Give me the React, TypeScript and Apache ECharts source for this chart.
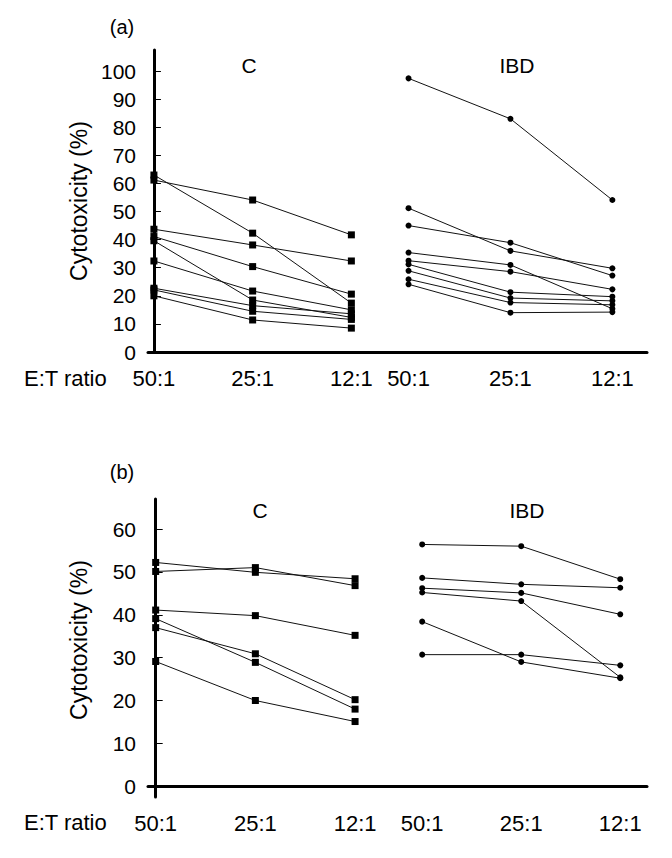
import React, { useEffect, useRef } from "react";
import * as echarts from "echarts";

// Category labels (E:T ratios)
const ratios = ["50:1", "25:1", "12:1"];

// Y tick values
const yTicksA = [0, 10, 20, 30, 40, 50, 60, 70, 80, 90, 100];
const yTicksB = [0, 10, 20, 30, 40, 50, 60];

// Panel (a) — controls (C), one array per subject: 50:1, 25:1, 12:1
const aControl = [
  [63.0, 42.3, 17.4],
  [61.2, 54.1, 41.7],
  [43.7, 38.1, 32.4],
  [41.1, 30.4, 20.6],
  [39.6, 18.5, 12.3],
  [32.4, 21.7, 15.0],
  [22.7, 16.5, 13.6],
  [22.1, 14.5, 11.6],
  [20.0, 11.4, 8.5],
];

// Panel (a) — IBD
const aIBD = [
  [97.4, 83.0, 54.1],
  [51.2, 36.0, 29.8],
  [45.0, 38.9, 27.2],
  [35.4, 31.0, 15.4],
  [32.5, 28.6, 22.3],
  [31.2, 21.3, 19.7],
  [28.9, 19.2, 18.2],
  [25.9, 17.6, 16.8],
  [24.1, 14.0, 14.2],
];

// Panel (b) — controls (C)
const bControl = [
  [52.2, 49.9, 48.4],
  [50.1, 51.0, 46.8],
  [41.1, 39.8, 35.2],
  [39.1, 28.9, 18.0],
  [37.0, 30.9, 20.2],
  [29.1, 20.0, 15.1],
];

// Panel (b) — IBD
const bIBD = [
  [56.4, 56.0, 48.3],
  [48.6, 47.1, 46.3],
  [46.2, 45.1, 40.1],
  [45.2, 43.2, 25.4],
  [38.4, 29.0, 25.2],
  [30.7, 30.7, 28.2],
];

const FONT = "Liberation Sans, Arial, sans-serif";

function buildOption() {
  const grids = [
    { left: 148, top: 50, width: 232, height: 302 },
    { left: 380, top: 50, width: 267, height: 302 },
    { left: 148, top: 499, width: 232, height: 298 },
    { left: 380, top: 499, width: 267, height: 298 },
  ];
  const xRanges = [
    [-0.06, 2.29],
    [-0.28, 2.34],
    [-0.077, 2.25],
    [-0.426, 2.27],
  ];
  const xAxis = xRanges.map((r, i) => ({
    type: "value",
    gridIndex: i,
    min: r[0],
    max: r[1],
    axisLine: { show: true, lineStyle: { color: "#000", width: 3 } },
    axisTick: { show: false },
    splitLine: { show: false },
    axisLabel: {
      customValues: [0, 1, 2],
      formatter: (v: number) => {
        const k = Math.round(v);
        return Math.abs(v - k) < 1e-6 && ratios[k] !== undefined ? ratios[k] : "";
      },
      color: "#000",
      fontFamily: FONT,
      fontSize: 22,
      margin: 15,
    },
  }));

  const yFmt = (ticks: number[]) => (v: number) =>
    ticks.some((t) => Math.abs(t - v) < 1e-6) ? String(Math.round(v)) : "";

  const yVisible = (gridIndex: number, min: number, max: number, ticks: number[], namePad: number[]) => ({
    type: "value",
    gridIndex,
    min,
    max,
    name: "Cytotoxicity (%)",
    nameLocation: "middle",
    nameRotate: 90,
    nameGap: 58,
    nameTextStyle: { color: "#000", fontFamily: FONT, fontSize: 23, padding: namePad },
    axisLine: { show: true, lineStyle: { color: "#000", width: 3 } },
    axisTick: {
      show: true,
      inside: true,
      length: 7,
      customValues: ticks,
      lineStyle: { color: "#000", width: 1 },
    },
    splitLine: { show: false },
    axisLabel: {
      customValues: ticks,
      formatter: yFmt(ticks),
      color: "#000",
      fontFamily: FONT,
      fontSize: 21,
      margin: 12,
    },
  });
  const yHidden = (gridIndex: number, min: number, max: number) => ({
    type: "value",
    gridIndex,
    min,
    max,
    show: false,
    splitLine: { show: false },
  });

  const yAxis = [
    yVisible(0, 0, 107.5, yTicksA, [0, 0, 0, 0]),
    yHidden(1, 0, 107.5),
    yVisible(2, -2.5, 67, yTicksB, [0, 0, 0, 16]),
    yHidden(3, -2.5, 67),
  ];

  const groups = [
    { data: aControl, idx: 0, symbol: "rect", size: 7 },
    { data: aIBD, idx: 1, symbol: "circle", size: 6 },
    { data: bControl, idx: 2, symbol: "rect", size: 7 },
    { data: bIBD, idx: 3, symbol: "circle", size: 6 },
  ];
  const series: any[] = [];
  groups.forEach((g) => {
    g.data.forEach((vals) => {
      series.push({
        type: "line",
        xAxisIndex: g.idx,
        yAxisIndex: g.idx,
        data: vals.map((v, i) => [i, v]),
        symbol: g.symbol,
        symbolSize: g.size,
        showSymbol: true,
        lineStyle: { color: "#111", width: 1 },
        itemStyle: { color: "#000" },
        silent: true,
        z: 3,
      });
    });
  });

  const txt = (text: string, x: number, y: number, size: number, align = "center") => ({
    type: "text",
    x,
    y,
    style: {
      text,
      fill: "#000",
      font: `${size}px ${FONT}`,
      align,
      verticalAlign: "middle",
    },
  });

  return {
    animation: false,
    backgroundColor: "#fff",
    textStyle: { fontFamily: FONT },
    grid: grids,
    xAxis,
    yAxis,
    series,
    graphic: [
      txt("(a)", 122, 27, 20),
      txt("C", 249, 65, 21),
      txt("IBD", 517, 65, 21),
      txt("E:T ratio", 24, 378, 22, "left"),
      txt("(b)", 122, 472, 20),
      txt("C", 260, 510, 21),
      txt("IBD", 527, 510, 21),
      txt("E:T ratio", 24, 822, 22, "left"),
    ],
  };
}

export default function App() {
  const ref = useRef<HTMLDivElement>(null);
  useEffect(() => {
    if (!ref.current) return;
    const chart = echarts.init(ref.current, undefined, { renderer: "svg" });
    chart.setOption(buildOption() as any);
    return () => chart.dispose();
  }, []);
  return (
    <div
      ref={ref}
      style={{ position: "fixed", left: 0, top: 0, width: 672, height: 858, background: "#fff" }}
    />
  );
}
